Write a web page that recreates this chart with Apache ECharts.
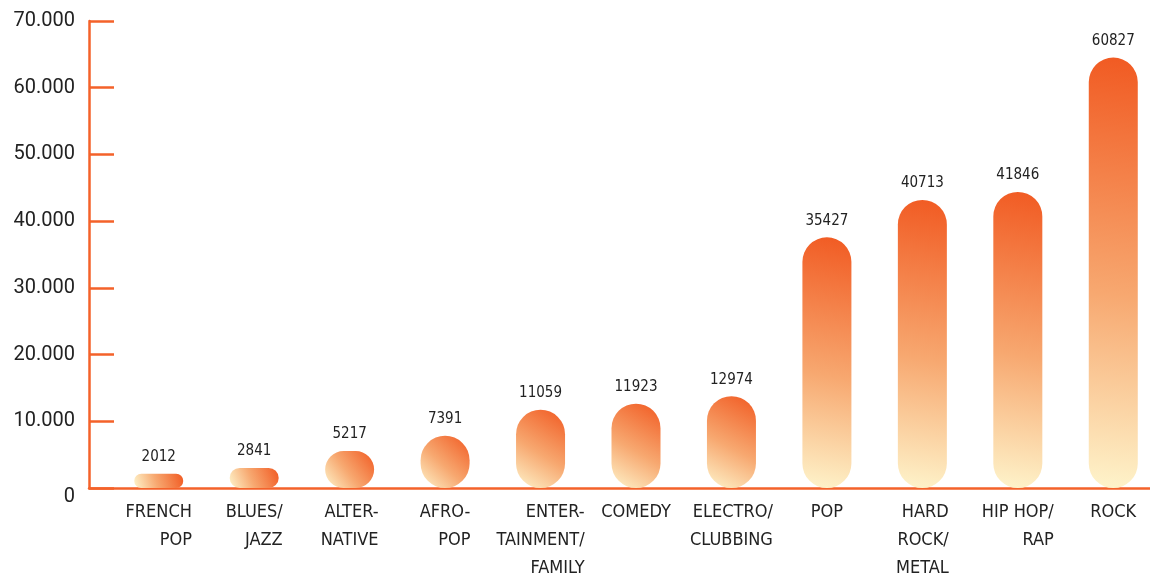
<!DOCTYPE html>
<html>
<head>
<meta charset="utf-8">
<script src="https://cdn.jsdelivr.net/npm/echarts@6/dist/echarts.min.js"></script>
<style>
html,body{margin:0;padding:0;background:#fff;}
#c{width:1150px;height:577px;}
</style>
</head>
<body>
<div id="c"></div>
<script>
const categories = ['FRENCH\nPOP', 'BLUES/\nJAZZ', 'ALTER-\nNATIVE', 'AFRO-\nPOP', 'ENTER-\nTAINMENT/\nFAMILY', 'COMEDY', 'ELECTRO/\nCLUBBING', 'POP', 'HARD\nROCK/\nMETAL', 'HIP HOP/\nRAP', 'ROCK'];
const values = [2012, 2841, 5217, 7391, 11059, 11923, 12974, 35427, 40713, 41846, 60827];
const yTickLabels = ['0', '10.000', '20.000', '30.000', '40.000', '50.000', '60.000', '70.000'];

const ORANGE = '#F4622A';
const condensed = '"DejaVu Sans Condensed", "Liberation Sans Narrow", sans-serif';

const chart = echarts.init(document.getElementById('c'), null, {renderer: 'canvas'});
const TOP = 21, BOTTOM = 577 - 488;

chart.setOption({
  backgroundColor: '#fff',
  animation: false,
  grid: [
    {left: 89, right: 0, top: TOP, bottom: BOTTOM, outerBoundsMode: 'none', containLabel: false},
    {left: 111, right: -11, top: TOP, bottom: BOTTOM, outerBoundsMode: 'none', containLabel: false}
  ],
  xAxis: [
    {
      gridIndex: 0, type: 'value', min: 0, max: 1,
      axisLine: {show: true, onZero: false, lineStyle: {color: ORANGE, width: 2.5}},
      axisTick: {show: false}, axisLabel: {show: false}, splitLine: {show: false}
    },
    {
      gridIndex: 1, type: 'category', data: categories,
      axisLine: {show: false}, axisTick: {show: false},
      axisLabel: {
        interval: 0, margin: 10, hideOverlap: false,
        color: '#222', fontFamily: condensed, fontSize: 18, lineHeight: 28,
        align: 'center',
        formatter: function (v) {
          return v.split('\n').map(function (s) { return '{r|' + s + '}'; }).join('\n');
        },
        rich: {r: {align: 'right', color: '#222', fontFamily: condensed, fontSize: 18, lineHeight: 28}}
      }
    }
  ],
  yAxis: [
    {
      gridIndex: 0, type: 'value', min: 0, max: 70000, interval: 10000,
      axisLine: {show: true, lineStyle: {color: ORANGE, width: 2.5}},
      axisTick: {show: true, inside: true, length: 25, lineStyle: {color: ORANGE, width: 2.5}},
      splitLine: {show: false},
      axisLabel: {
        margin: 14, color: '#222', fontFamily: 'Roboto, sans-serif', fontSize: 20,
        formatter: function (v) {
          const s = yTickLabels[Math.round(v / 10000)];
          return v === 0 ? '{z|' + s + '}' : s;
        },
        rich: {z: {color: '#222', fontFamily: 'Roboto, sans-serif', fontSize: 20, padding: [18, 0, 0, 0]}}
      }
    },
    {
      gridIndex: 1, type: 'value', min: 0, max: 66000,
      show: false, splitLine: {show: false}
    }
  ],
  series: [{
    type: 'bar',
    xAxisIndex: 1, yAxisIndex: 1,
    data: values,
    barWidth: 49,
    itemStyle: {
      borderRadius: 25,
      color: new echarts.graphic.LinearGradient(0, 1, 1, 0, [
        {offset: 0, color: '#FEF4CB'},
        {offset: 0.45, color: '#F7A870'},
        {offset: 1, color: '#F15A22'}
      ])
    },
    label: {
      show: true, position: 'top', distance: 9,
      color: '#222', fontFamily: condensed, fontSize: 15
    }
  }]
});
</script>
</body>
</html>
